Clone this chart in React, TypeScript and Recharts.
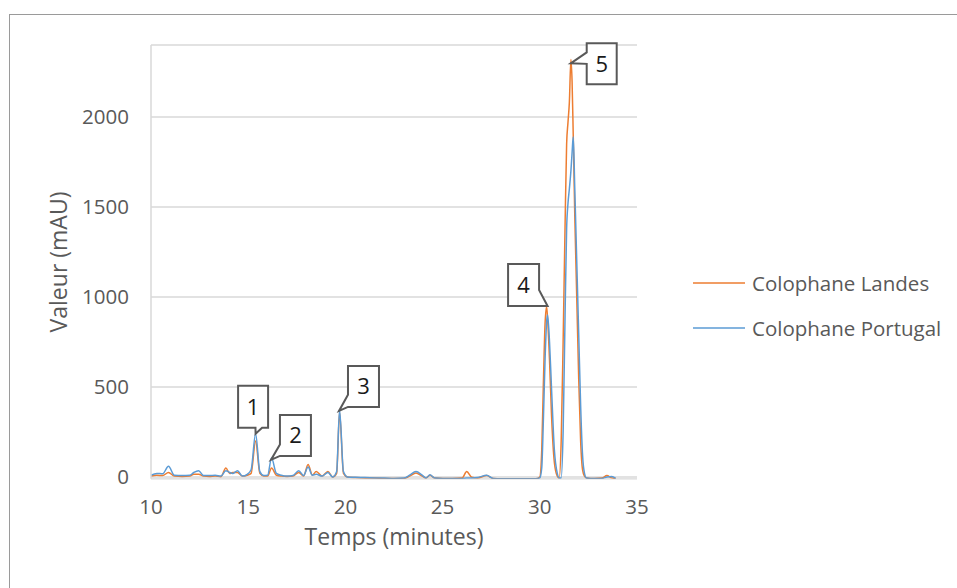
import React from "react";
import {
  CartesianGrid,
  Legend,
  Line,
  LineChart,
  ReferenceDot,
  XAxis,
  YAxis,
  Label,
} from "recharts";

// retention time (minutes) and absorbance (mAU)
const times = [
  10.0, 10.3, 10.6, 10.9, 11.2, 11.6, 12.0, 12.2, 12.45, 12.7, 13.0, 13.3, 13.6, 13.85, 14.05,
  14.2, 14.45, 14.7, 14.95, 15.15, 15.38, 15.6, 15.8, 16.0, 16.2, 16.45, 16.7, 17.0, 17.3, 17.6,
  17.85, 18.08, 18.3, 18.5, 18.8, 19.1, 19.35, 19.55, 19.7, 19.9, 20.1, 20.5, 21.0, 21.5, 22.0,
  22.5, 23.0, 23.3, 23.63, 23.95, 24.15, 24.35, 24.6, 25.0, 25.5, 26.0, 26.24, 26.5, 26.8, 27.27,
  27.6, 28.0, 29.0, 29.8, 30.0, 30.1, 30.18, 30.27, 30.35, 30.4, 30.5, 30.6, 30.75, 30.9, 31.0,
  31.1, 31.2, 31.3, 31.38, 31.45, 31.52, 31.6, 31.66, 31.72, 31.8, 31.9, 32.0, 32.1, 32.2, 32.3,
  32.4, 32.8, 33.2, 33.45, 33.7, 33.9,
];

const landes = [
  5, 10, 8, 25, 5, 3, 5, 15, 15, 5, 3, 5, 2, 50, 20,
  25, 25, 5, 10, 20, 200, 20, 5, 5, 50, 10, 5, 3, 5, 25,
  5, 70, 10, 30, 5, 30, 0, 20, 360, 20, 0, -3, -5, -5, -8,
  -8, -8, 5, 22, 5, -5, 10, -6, -8, -8, -6, 30, -2, -5, 8,
  -8, -10, -10, -10, 0, 150, 500, 850, 946, 880, 650, 350, 80, 5, -5,
  200, 750, 1400, 1850, 1970, 2080, 2320, 2200, 1900, 1450, 1000, 550, 200, 40, 5,
  -5, -8, -6, 8, -5, -8,
];

const portugal = [
  10, 20, 18, 60, 10, 8, 10, 25, 35, 8, 8, 10, 5, 35, 25,
  20, 35, 5, 15, 40, 240, 30, 8, 10, 105, 20, 10, 5, 8, 35,
  8, 55, 10, 15, 5, 25, 0, 30, 372, 30, 0, -2, -3, -5, -6,
  -8, -6, 10, 30, 10, -5, 12, -6, -8, -8, -8, -5, -5, -3, 10,
  -8, -10, -10, -10, -5, 50, 300, 650, 860, 900, 750, 500, 150, 20, -5,
  -5, 250, 900, 1380, 1520, 1600, 1700, 1800, 1890, 1600, 1200, 800, 400, 120, 20,
  -5, -8, -8, 0, 3, -8,
];

const xTicks = [10, 15, 20, 25, 30, 35];
const yTicks = [0, 500, 1000, 1500, 2000];

// numbered peak callouts
const peakLabels = ["1", "2", "3", "4", "5"];
const peakTimes = [15.38, 16.17, 19.67, 30.4, 31.59];
const peakValues = [240, 95, 367, 950, 2298];

// box placement relative to the tip, and which side the pointer leaves from
const calloutBoxes = [
  { dx: -17.5, dy: -48, w: 30, h: 42, edge: "bottom", f1: 0.58, f2: 0.8 },
  { dx: 9, dy: -45, w: 31, h: 41, edge: "left", f1: 0.72, f2: 1 },
  { dx: 9, dy: -45, w: 31, h: 41, edge: "left", f1: 0.7, f2: 1 },
  { dx: -39.5, dy: -42, w: 31, h: 42, edge: "right", f1: 0.62, f2: 1 },
  { dx: 16, dy: -20, w: 30, h: 41, edge: "left", f1: 0.22, f2: 0.5 },
];

const data = times.map((t, i) => ({ t, landes: landes[i], portugal: portugal[i] }));

const FONT = "'Open Sans', sans-serif";
const GREY = "#595959";

function calloutPath(tx: number, ty: number, b: any) {
  const x = tx + b.dx;
  const y = ty + b.dy;
  const { w, h, f1, f2 } = b;
  if (b.edge === "bottom") {
    return `M${x},${y} L${x + w},${y} L${x + w},${y + h} L${x + w * f2},${y + h} L${tx},${ty} L${x + w * f1},${y + h} L${x},${y + h} Z`;
  }
  if (b.edge === "right") {
    return `M${x},${y} L${x + w},${y} L${x + w},${y + h * f1} L${tx},${ty} L${x + w},${y + h * f2} L${x + w},${y + h} L${x},${y + h} Z`;
  }
  return `M${x},${y} L${x + w},${y} L${x + w},${y + h} L${x},${y + h} L${x},${y + h * f2} L${tx},${ty} L${x},${y + h * f1} Z`;
}

function makeCallout(i: number) {
  return (props: any) => {
    const { cx, cy } = props;
    const b = calloutBoxes[i];
    return (
      <g>
        <path d={calloutPath(cx, cy, b)} fill="#fff" stroke={GREY} strokeWidth={2} strokeLinejoin="miter" />
        <text
          x={cx + b.dx + b.w / 2}
          y={cy + b.dy + b.h / 2 + 8}
          textAnchor="middle"
          fontFamily={FONT}
          fontSize={22}
          fill="#1a1a1a"
        >
          {peakLabels[i]}
        </text>
      </g>
    );
  };
}

const renderLegend = (props: any) => (
  <div style={{ fontFamily: FONT, fontSize: 20.5, color: GREY }}>
    {props.payload.map((entry: any) => (
      <div key={entry.value} style={{ display: "flex", alignItems: "center", height: 45 }}>
        <svg width={58} height={6}>
          <line x1={3} x2={55} y1={3} y2={3} stroke={entry.color} strokeWidth={1.5} />
        </svg>
        <span style={{ marginLeft: 4, whiteSpace: "nowrap" }}>{entry.value}</span>
      </div>
    ))}
  </div>
);

export default function App() {
  return (
    <div
      style={{
        position: "absolute",
        left: 0,
        top: 0,
        width: 957,
        height: 588,
        overflow: "hidden",
        background: "#fff",
      }}
    >
      <div
        style={{
          position: "absolute",
          left: 9,
          top: 14,
          width: 1000,
          height: 700,
          borderLeft: "1px solid #9a9a9a",
          borderTop: "1px solid #9a9a9a",
        }}
      />
      <div style={{ position: "absolute", left: 0, top: 0 }}>
        <LineChart
          width={957}
          height={588}
          data={data}
          margin={{ top: 45, right: 320, bottom: 34.2, left: 71 }}
        >
          <CartesianGrid vertical={false} stroke="#d9d9d9" strokeWidth={1.3} />
          <XAxis
            dataKey="t"
            type="number"
            domain={[10, 35]}
            ticks={xTicks}
            height={75}
            axisLine={false}
            tickLine={false}
            tickSize={0}
            tickMargin={21}
            tick={{ fill: GREY, fontSize: 20.5, fontFamily: FONT }}
          >
            <Label
              value="Temps (minutes)"
              position="insideBottom"
              offset={9}
              fill={GREY}
              fontSize={23}
              fontFamily={FONT}
            />
          </XAxis>
          <YAxis
            type="number"
            domain={[-10, 2400]}
            allowDataOverflow
            ticks={yTicks}
            width={80}
            axisLine={{ stroke: "#d9d9d9", strokeWidth: 1.5 }}
            tickLine={false}
            tickSize={0}
            tickMargin={22}
            tick={{ fill: GREY, fontSize: 20.5, fontFamily: FONT }}
          >
            <Label
              content={() => (
                <text
                  transform="translate(67,262) rotate(-90)"
                  textAnchor="middle"
                  fill={GREY}
                  fontSize={23}
                  fontFamily={FONT}
                >
                  Valeur (mAU)
                </text>
              )}
            />
          </YAxis>
          <Legend
            layout="vertical"
            align="center"
            verticalAlign="middle"
            content={renderLegend}
            wrapperStyle={{ left: 690, top: 260.5, width: 267 }}
          />
          <Line
            name="Colophane Landes"
            dataKey="landes"
            type="monotone"
            stroke="#ED7D31"
            strokeWidth={1.5}
            dot={false}
            activeDot={false}
            isAnimationActive={false}
          />
          <Line
            name="Colophane Portugal"
            dataKey="portugal"
            type="monotone"
            stroke="#5B9BD5"
            strokeWidth={1.5}
            dot={false}
            activeDot={false}
            isAnimationActive={false}
          />
          {peakLabels.map((lab, i) => (
            <ReferenceDot
              key={lab}
              x={peakTimes[i]}
              y={peakValues[i]}
              r={0}
              ifOverflow="visible"
              shape={makeCallout(i)}
            />
          ))}
        </LineChart>
      </div>
    </div>
  );
}
